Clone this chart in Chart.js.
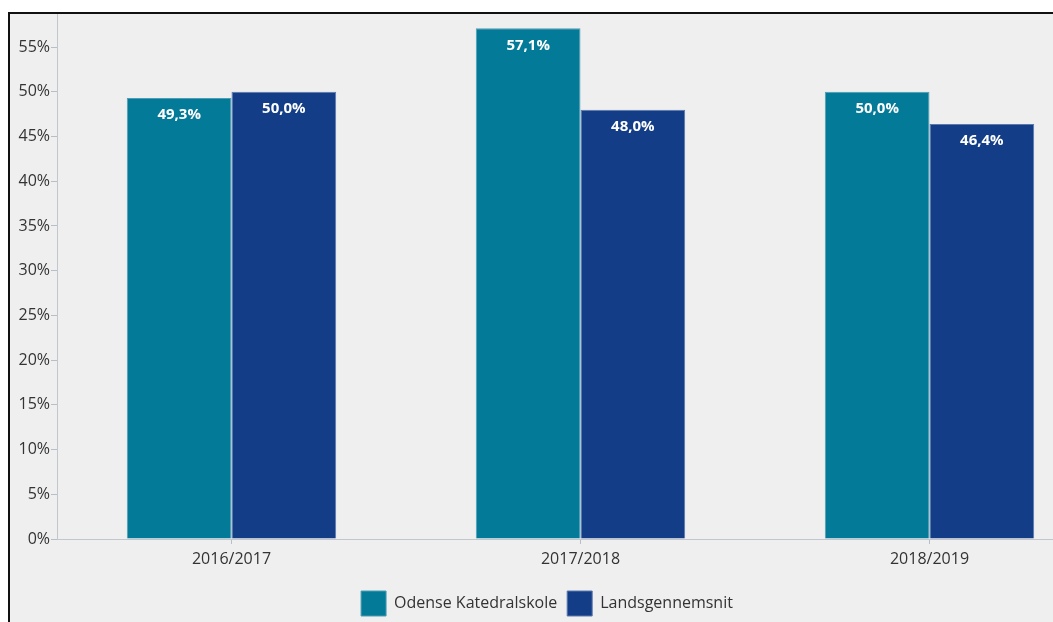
<!DOCTYPE html>
<html>
<head>
<meta charset="utf-8">
<script src="https://cdn.jsdelivr.net/npm/chart.js@4.4.0/dist/chart.umd.min.js"></script>
<style>
  html, body { margin: 0; padding: 0; background: #ffffff; overflow: hidden; }
  #frame { position: absolute; left: 8px; top: 12px; width: 1120px; height: 640px;
           border: 2px solid #111; background: #efefef; }
  #wrap { position: absolute; left: 0; top: 0; width: 1100px; height: 612px; }
</style>
</head>
<body>
<div id="frame"><div id="wrap"><canvas id="c" width="1100" height="612"></canvas></div></div>
<script>
const categories = ['2016/2017', '2017/2018', '2018/2019'];
const seriesNames = ['Odense Katedralskole', 'Landsgennemsnit'];
const odenseValues = [49.3, 57.1, 50.0];
const nationalValues = [50.0, 48.0, 46.4];
const yTickValues = [0, 5, 10, 15, 20, 25, 30, 35, 40, 45, 50, 55];

const FONT = "'Open Sans', 'DejaVu Sans', sans-serif";

const valueLabels = {
  id: 'valueLabels',
  afterDatasetsDraw(chart) {
    const ctx = chart.ctx;
    ctx.save();
    ctx.font = "bold 15px " + FONT;
    ctx.fillStyle = '#ffffff';
    ctx.textAlign = 'center';
    ctx.textBaseline = 'middle';
    chart.data.datasets.forEach((ds, i) => {
      const meta = chart.getDatasetMeta(i);
      meta.data.forEach((el, j) => {
        const v = ds.data[j];
        ctx.fillText(v.toFixed(1).replace('.', ',') + '%', el.x, el.y + 17);
      });
    });
    ctx.restore();
  }
};

const legendShift = {
  id: 'legendShift',
  afterLayout(chart) {
    if (chart.legend) { chart.legend.left -= 10; chart.legend.right -= 10; }
  }
};

new Chart(document.getElementById('c'), {
  type: 'bar',
  data: {
    labels: categories,
    datasets: [
      { label: seriesNames[0], data: odenseValues, backgroundColor: '#037a98', borderColor: '#4d9db4', borderWidth: 1 },
      { label: seriesNames[1], data: nationalValues, backgroundColor: '#133e87', borderColor: '#5a78ae', borderWidth: 1 }
    ]
  },
  options: {
    responsive: false,
    animation: false,
    layout: { padding: { left: 0, right: 6, top: 0, bottom: 0 } },
    datasets: { bar: { barPercentage: 1.0, categoryPercentage: 0.6 } },
    plugins: {
      legend: {
        position: 'bottom',
        labels: {
          boxWidth: 25, boxHeight: 25, padding: 10,
          color: '#333', font: { family: FONT, size: 16 }
        }
      },
      tooltip: { enabled: false }
    },
    scales: {
      x: {
        grid: { display: true, drawOnChartArea: false, offset: false, color: '#b8bec8', tickLength: 5 },
        border: { display: true, color: '#c2c7cf', width: 1 },
        ticks: { color: '#333', font: { family: FONT, size: 16 }, padding: 6 },
        afterFit(s) { s.height = 42; s.paddingLeft = 0; s.paddingRight = 0; }
      },
      y: {
        min: 0, max: 58.7,
        grid: { display: true, drawOnChartArea: false, color: '#b8bec8', tickLength: 6 },
        border: { display: true, color: '#c2c7cf', width: 1 },
        ticks: {
          color: '#333', font: { family: FONT, size: 16 }, padding: 1,
          callback: (v) => v + '%'
        },
        afterBuildTicks(s) { s.ticks = yTickValues.map(v => ({ value: v })); },
        afterFit(s) { s.width = 47; s.paddingTop = 0; s.paddingBottom = 0; }
      }
    }
  },
  plugins: [valueLabels, legendShift]
});
</script>
</body>
</html>
